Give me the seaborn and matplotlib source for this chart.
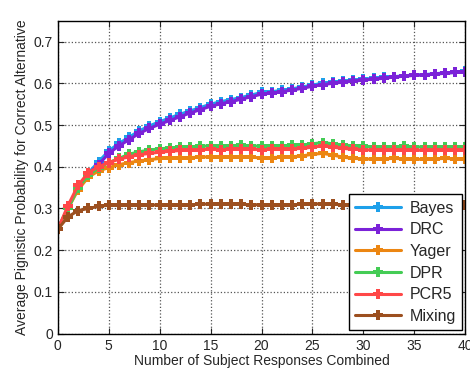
import pandas as pd
import matplotlib
matplotlib.use('Agg')
import matplotlib.pyplot as plt
import seaborn as sns

sns.set_style('ticks')
plt.rcParams['font.family'] = ['Liberation Sans', 'DejaVu Sans']

n_resp = list(range(41))

bayes = [0.250, 0.300, 0.350, 0.385, 0.412, 0.438, 0.456, 0.471, 0.486, 0.498,
         0.508, 0.517, 0.526, 0.534, 0.542, 0.550, 0.556, 0.561, 0.566, 0.572,
         0.578, 0.580, 0.583, 0.587, 0.591, 0.596, 0.600, 0.602, 0.605, 0.607,
         0.610, 0.612, 0.614, 0.616, 0.618, 0.620, 0.621, 0.623, 0.625, 0.626, 0.629]
drc = [0.250, 0.303, 0.352, 0.383, 0.405, 0.432, 0.450, 0.465, 0.480, 0.492,
       0.502, 0.511, 0.520, 0.529, 0.537, 0.545, 0.551, 0.556, 0.562, 0.568,
       0.574, 0.577, 0.580, 0.584, 0.588, 0.593, 0.597, 0.600, 0.603, 0.605,
       0.608, 0.610, 0.612, 0.615, 0.617, 0.619, 0.620, 0.622, 0.624, 0.626, 0.628]
yager = [0.250, 0.300, 0.345, 0.375, 0.390, 0.398, 0.405, 0.410, 0.414, 0.417,
         0.420, 0.421, 0.422, 0.422, 0.423, 0.424, 0.423, 0.423, 0.424, 0.423,
         0.421, 0.422, 0.423, 0.424, 0.426, 0.430, 0.432, 0.428, 0.423, 0.420,
         0.419, 0.418, 0.419, 0.420, 0.419, 0.418, 0.418, 0.419, 0.420, 0.419, 0.418]
dpr = [0.250, 0.300, 0.350, 0.380, 0.397, 0.410, 0.420, 0.430, 0.436, 0.440,
       0.443, 0.445, 0.447, 0.448, 0.449, 0.450, 0.449, 0.450, 0.451, 0.450,
       0.449, 0.450, 0.450, 0.451, 0.452, 0.455, 0.458, 0.455, 0.452, 0.450,
       0.449, 0.448, 0.447, 0.448, 0.449, 0.448, 0.447, 0.447, 0.448, 0.448, 0.447]
pcr5 = [0.250, 0.307, 0.356, 0.386, 0.400, 0.410, 0.418, 0.424, 0.429, 0.432,
        0.435, 0.437, 0.439, 0.440, 0.441, 0.442, 0.441, 0.442, 0.443, 0.442,
        0.441, 0.442, 0.442, 0.443, 0.444, 0.447, 0.450, 0.447, 0.444, 0.442,
        0.441, 0.440, 0.439, 0.440, 0.441, 0.440, 0.439, 0.439, 0.440, 0.440, 0.439]
mixing = [0.250, 0.280, 0.295, 0.300, 0.305, 0.308, 0.308, 0.308, 0.308, 0.308,
          0.309, 0.309, 0.309, 0.309, 0.310, 0.311, 0.310, 0.310, 0.310, 0.309,
          0.309, 0.309, 0.309, 0.309, 0.310, 0.311, 0.311, 0.310, 0.309, 0.309,
          0.309, 0.309, 0.309, 0.309, 0.309, 0.309, 0.309, 0.309, 0.309, 0.309, 0.309]

series = {'Bayes': bayes, 'DRC': drc, 'Yager': yager,
          'DPR': dpr, 'PCR5': pcr5, 'Mixing': mixing}
colors = {'Bayes': '#1ea0ea', 'DRC': '#7b22d8', 'Yager': '#ec8612',
          'DPR': '#44cc55', 'PCR5': '#ff4848', 'Mixing': '#9c4f1f'}

df = pd.DataFrame([{'n': x, 'p': v, 'method': name}
                   for name, vals in series.items() for x, v in zip(n_resp, vals)])

fig, ax = plt.subplots(figsize=(4.7, 3.77), dpi=100)
for name in series:
    sub = df[df['method'] == name]
    sns.lineplot(data=sub, x='n', y='p', ax=ax, color=colors[name], label=name,
                 linewidth=2.2, marker='P', markersize=6.5, markeredgewidth=0)

ax.set_xlim(0, 40)
ax.set_ylim(0, 0.75)
ax.set_xticks(range(0, 41, 5))
ax.set_yticks([0, 0.1, 0.2, 0.3, 0.4, 0.5, 0.6, 0.7])
ax.set_yticklabels(['0', '0.1', '0.2', '0.3', '0.4', '0.5', '0.6', '0.7'])
ax.grid(True, linestyle=':', color='#555555', linewidth=0.9)
ax.tick_params(direction='in', length=4, labelsize=10, top=True, right=True)
for s in ax.spines.values():
    s.set_visible(True)
    s.set_color('black')
    s.set_linewidth(1)
ax.set_xlabel('Number of Subject Responses Combined', fontsize=10, labelpad=1)
ax.set_ylabel('Average Pignistic Probability for Correct Alternative', fontsize=10, labelpad=3)

leg = ax.legend(loc='lower right', fontsize=11.5, fancybox=False, framealpha=1,
                edgecolor='black', handlelength=2.9, handletextpad=0.5,
                borderaxespad=0.2, labelspacing=0.42)
leg.get_frame().set_linewidth(1)

plt.subplots_adjust(left=0.123, right=0.99, top=0.945, bottom=0.115)
fig.savefig('out.png', dpi=100)
